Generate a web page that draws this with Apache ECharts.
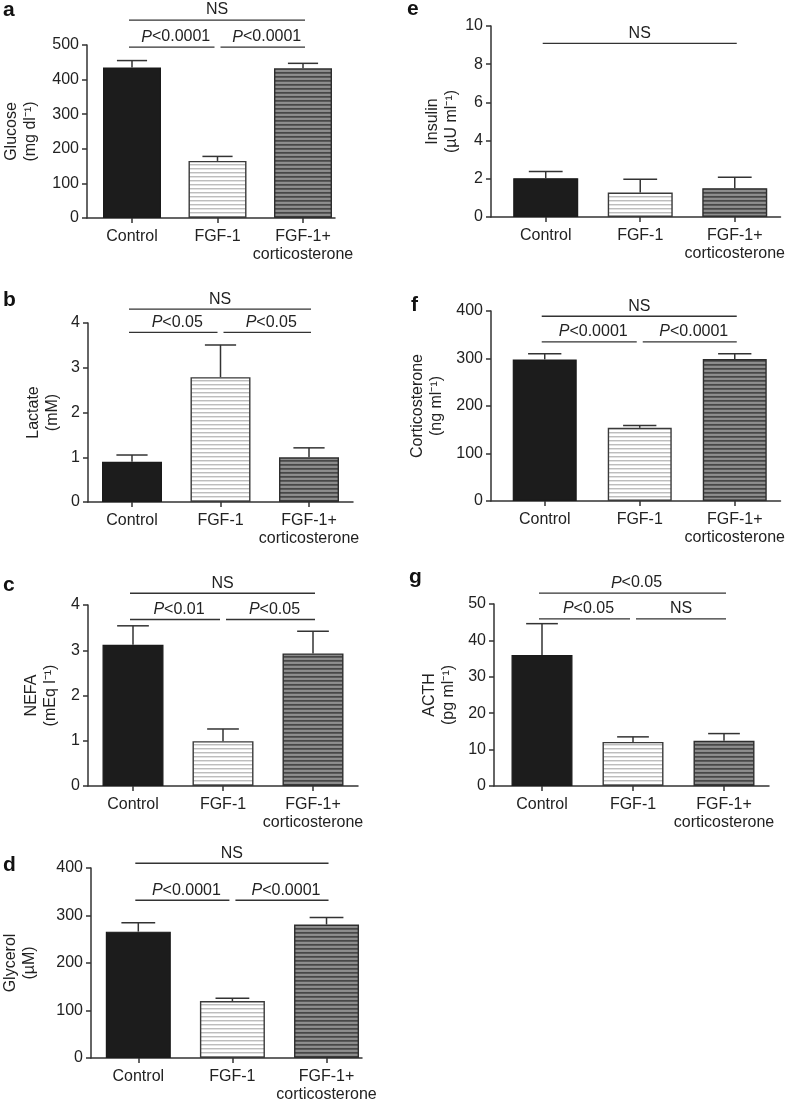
<!DOCTYPE html>
<html>
<head>
<meta charset="utf-8">
<script src="https://cdn.jsdelivr.net/npm/echarts@6/dist/echarts.min.js"></script>
<style>
html,body{margin:0;padding:0;background:#fff;}
#chart{width:788px;height:1110px;}
</style>
</head>
<body>
<div id="chart"></div>
<script>
// ---------------- data ----------------
const categories = ['Control', 'FGF-1', 'FGF-1+\ncorticosterone'];

const glucose = [435, 165, 433];
const glucoseSem = [20, 13, 14];
const lactate = [0.90, 2.79, 1.00];
const lactateSem = [0.15, 0.72, 0.21];
const nefa = [3.12, 0.99, 2.93];
const nefaSem = [0.42, 0.27, 0.49];
const glycerol = [266, 120, 281];
const glycerolSem = [19, 6, 15];
const insulin = [2.03, 1.28, 1.51];
const insulinSem = [0.35, 0.70, 0.57];
const corticosterone = [298, 154, 299];
const corticosteroneSem = [12, 5, 11];
const acth = [36.0, 12.1, 12.4];
const acthSem = [8.6, 1.4, 2.0];

// y axis ticks: [max, interval]
const glucoseTicks = [500, 100];
const lactateTicks = [4, 1];
const nefaTicks = [4, 1];
const glycerolTicks = [400, 100];
const insulinTicks = [10, 2];
const corticosteroneTicks = [400, 100];
const acthTicks = [50, 10];

// significance annotations: [text, fromIndex, toIndex, row]
const glucoseSig = [['NS', 0, 2, 1], ['P<0.0001', 0, 1, 0], ['P<0.0001', 1, 2, 0]];
const lactateSig = [['NS', 0, 2, 1], ['P<0.05', 0, 1, 0], ['P<0.05', 1, 2, 0]];
const nefaSig = [['NS', 0, 2, 1], ['P<0.01', 0, 1, 0], ['P<0.05', 1, 2, 0]];
const glycerolSig = [['NS', 0, 2, 1], ['P<0.0001', 0, 1, 0], ['P<0.0001', 1, 2, 0]];
const insulinSig = [['NS', 0, 2, 0]];
const corticosteroneSig = [['NS', 0, 2, 1], ['P<0.0001', 0, 1, 0], ['P<0.0001', 1, 2, 0]];
const acthSig = [['P<0.05', 0, 2, 1], ['P<0.05', 0, 1, 0], ['NS', 1, 2, 0]];

// ---------------- layout ----------------
const FONT = "'Liberation Sans', Arial, Helvetica, sans-serif";
const panels = [
  {letter:'a', name:'Glucose\n(mg dl\u207B\u00B9)', values:glucose, sem:glucoseSem, ticks:glucoseTicks, sig:glucoseSig,
   levels:[494, 572], L:{axisX:87, axisEnd:335, top:45, bottom:218, tick0:132, tick2:303, barW:58, nameGap:47, lx:3, ly:19}},
  {letter:'b', name:'Lactate\n(mM)', values:lactate, sem:lactateSem, ticks:lactateTicks, sig:lactateSig,
   levels:[3.79, 4.31], L:{axisX:88, axisEnd:353, top:323, bottom:502, tick0:132, tick2:309, barW:60, nameGap:26, lx:3, ly:309}},
  {letter:'c', name:'NEFA\n(mEq l\u207B\u00B9)', values:nefa, sem:nefaSem, ticks:nefaTicks, sig:nefaSig,
   levels:[3.68, 4.26], L:{axisX:88, axisEnd:358, top:605, bottom:786, tick0:133, tick2:313, barW:61, nameGap:28, lx:3, ly:594}},
  {letter:'d', name:'Glycerol\n(\u00B5M)', values:glycerol, sem:glycerolSem, ticks:glycerolTicks, sig:glycerolSig,
   levels:[332, 410], L:{axisX:87, axisEnd:362, top:868, bottom:1058, tick0:135, tick2:326, barW:65, nameGap:52, lx:3, ly:874}},
  {letter:'e', name:'Insulin\n(\u00B5U ml\u207B\u00B9)', values:insulin, sem:insulinSem, ticks:insulinTicks, sig:insulinSig,
   levels:[9.09], L:{axisX:491, axisEnd:782, top:26, bottom:217, tick0:546, tick2:736, barW:65, nameGap:30, lx:407, ly:18}},
  {letter:'f', name:'Corticosterone\n(ng ml\u207B\u00B9)', values:corticosterone, sem:corticosteroneSem, ticks:corticosteroneTicks, sig:corticosteroneSig,
   levels:[335, 389], L:{axisX:491, axisEnd:782, top:311, bottom:501, tick0:545, tick2:736, barW:64, nameGap:45, lx:411, ly:314}},
  {letter:'g', name:'ACTH\n(pg ml\u207B\u00B9)', values:acth, sem:acthSem, ticks:acthTicks, sig:acthSig,
   levels:[45.9, 53], L:{axisX:494, axisEnd:769, top:604, bottom:786, tick0:542, tick2:724, barW:61, nameGap:36, lx:409, ly:586}}
];

// ---------------- styles ----------------
function stripes(rows) {
  const c = document.createElement('canvas');
  c.width = 4; c.height = rows.length;
  const ctx = c.getContext('2d');
  rows.forEach((col, i) => { ctx.fillStyle = col; ctx.fillRect(0, i, 4, 1); });
  return c;
}
const lightPattern = {image: stripes(['#bdbdbd', '#e2e2e2', '#ffffff', '#ffffff']), repeat: 'repeat'};
const darkPattern = {image: stripes(['#474747', '#5a5a5a', '#8e8e8e', '#8a8a8a']), repeat: 'repeat'};
const barStyles = [
  {color: '#1c1c1c', borderColor: '#1a1a1a', borderWidth: 1.2},
  {color: lightPattern, borderColor: '#3a3a3a', borderWidth: 1.4},
  {color: darkPattern, borderColor: '#2e2e2e', borderWidth: 1.4}
];
const AX = '#333';
const TXT = '#222';

// ---------------- build option ----------------
const grid = [], xAxis = [], yAxis = [], series = [], graphic = [];
panels.forEach((p, k) => {
  const L = p.L;
  const spacing = (L.tick2 - L.tick0) / 2;
  const xmin = -(L.tick0 - L.axisX) / spacing;
  const xmax = 2 + (L.axisEnd - L.tick2) / spacing;
  grid.push({left: L.axisX, top: L.top, width: L.axisEnd - L.axisX, height: L.bottom - L.top, containLabel: false});
  xAxis.push({
    gridIndex: k, type: 'value', min: xmin, max: xmax,
    axisLine: {show: true, onZero: false, lineStyle: {color: AX, width: 1.5}},
    axisTick: {show: true, customValues: [0, 1, 2], length: 5, lineStyle: {color: AX, width: 1.5}},
    axisLabel: {customValues: [0, 1, 2], formatter: v => categories[Math.round(v)],
      fontSize: 16, fontFamily: FONT, color: TXT, margin: 10, lineHeight: 18},
    splitLine: {show: false}
  });
  yAxis.push({
    gridIndex: k, type: 'value', min: 0, max: p.ticks[0], interval: p.ticks[1],
    axisLine: {show: true, onZero: false, lineStyle: {color: AX, width: 1.5}},
    axisTick: {show: true, length: 5, lineStyle: {color: AX, width: 1.5}},
    axisLabel: {fontSize: 16, fontFamily: FONT, color: TXT, margin: 8},
    splitLine: {show: false},
    name: p.name, nameLocation: 'middle', nameRotate: 90, nameGap: L.nameGap,
    nameTextStyle: {fontSize: 16, fontFamily: FONT, color: TXT, lineHeight: 19}
  });
  series.push({
    type: 'bar', xAxisIndex: k, yAxisIndex: k, barWidth: L.barW, z: 2,
    data: p.values.map((v, i) => ({value: [i, v], itemStyle: barStyles[i]})),
    animation: false
  });
  const capHalf = L.barW * 0.26;
  series.push({
    type: 'custom', xAxisIndex: k, yAxisIndex: k, z: 3, clip: false, animation: false,
    data: p.values.map((v, i) => [i, v, v + p.sem[i]]),
    renderItem: (params, api) => {
      const i = api.value(0);
      const a = api.coord([i, api.value(1)]);
      const b = api.coord([i, api.value(2)]);
      const st = {stroke: AX, lineWidth: 1.5};
      return {type: 'group', children: [
        {type: 'line', shape: {x1: a[0], y1: a[1], x2: b[0], y2: b[1]}, style: st},
        {type: 'line', shape: {x1: b[0] - capHalf, y1: b[1], x2: b[0] + capHalf, y2: b[1]}, style: st}
      ]};
    }
  });
  series.push({
    type: 'custom', xAxisIndex: k, yAxisIndex: k, z: 4, clip: false, animation: false, silent: true,
    data: p.sig.map(s => [s[1], s[2], p.levels[s[3]]]),
    renderItem: (params, api) => {
      const s = p.sig[params.dataIndex];
      const lvl = p.levels[s[3]];
      const p1 = api.coord([s[1], lvl]);
      const p2 = api.coord([s[2], lvl]);
      const x1 = p1[0] + (s[1] === 1 ? 3 : -3);
      const x2 = p2[0] + (s[2] === 1 ? -3 : 2);
      const isP = s[0].charAt(0) === 'P';
      const txt = isP ? '{i|P}{n|' + s[0].slice(1) + '}' : '{n|' + s[0] + '}';
      return {type: 'group', children: [
        {type: 'line', shape: {x1: x1, y1: p1[1], x2: x2, y2: p1[1]}, style: {stroke: AX, lineWidth: 1.4}},
        {type: 'text', x: (x1 + x2) / 2 + (isP ? 4 : 0), y: p1[1] - 2,
         style: {text: txt, align: 'center', verticalAlign: 'bottom', fill: TXT,
           rich: {i: {fontStyle: 'italic', fontSize: 16, fontFamily: FONT, fill: TXT},
                  n: {fontSize: 16, fontFamily: FONT, fill: TXT}}}}
      ]};
    }
  });
  graphic.push({type: 'text', left: L.lx, top: L.ly - 19,
    style: {text: p.letter, fontSize: 21, fontWeight: 'bold', fontFamily: FONT, fill: '#111'}});
});

const chart = echarts.init(document.getElementById('chart'), null, {renderer: 'canvas'});
chart.setOption({
  animation: false,
  backgroundColor: '#fff',
  textStyle: {fontFamily: FONT},
  grid, xAxis, yAxis, series, graphic
});
</script>
</body>
</html>
